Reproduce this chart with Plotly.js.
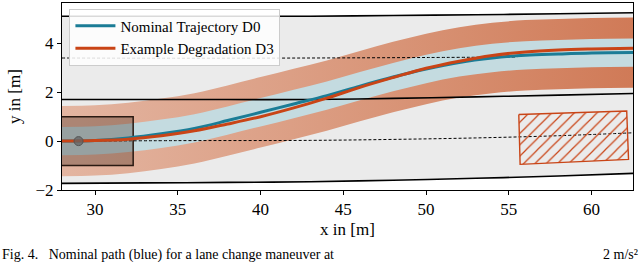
<!DOCTYPE html>
<html>
<head>
<meta charset="utf-8">
<script src="https://cdn.plot.ly/plotly-3.0.1.min.js"></script>
<style>html,body{margin:0;padding:0;background:#fff;}#chart{width:640px;height:262px;}</style>
</head>
<body>
<div id="chart"></div>
<script>
// ---- data ----
const roadX        = [28, 33, 38, 43, 48, 53, 58, 62.5];
const roadTop      = [5.11, 5.11, 5.11, 5.11, 5.14, 5.17, 5.21, 5.25];
const roadMid      = [1.70, 1.70, 1.70, 1.70, 1.75, 1.81, 1.88, 1.95];
const roadBottom   = [-1.73, -1.71, -1.69, -1.66, -1.60, -1.52, -1.43, -1.32];
const dashUpperX   = [28, 35, 43, 50, 55.5];
const dashUpperY   = [3.40, 3.39, 3.40, 3.42, 3.44];
const dashLowerX   = [29, 35, 43, 48, 53, 58, 62.5];
const dashLowerY   = [0.0, 0.02, 0.03, 0.07, 0.13, 0.22, 0.34];

const trajX        = [28, 30, 32, 34, 36, 38, 40, 42, 44, 46, 48, 50, 52, 54, 56, 58, 60, 62.5];
const nominalD0    = [0, 0.03, 0.13, 0.30, 0.52, 0.84, 1.18, 1.52, 1.86, 2.25, 2.62, 2.95, 3.22, 3.40, 3.51, 3.56, 3.60, 3.62];
const degradedD3   = [0, 0.02, 0.08, 0.22, 0.42, 0.70, 1.00, 1.36, 1.76, 2.20, 2.60, 2.98, 3.27, 3.50, 3.65, 3.73, 3.77, 3.80];
const halfWidthD0  = 0.58;
const halfWidthD3  = 1.44;

const vehicleX     = [27, 32.3];
const vehicleY     = [-1, 1];
const startX       = [29];
const startY       = [0];
const obstacleX    = [55.6, 62.12, 62.23, 55.68, 55.6];
const obstacleY    = [1.09, 1.23, -0.75, -0.95, 1.09];

const xTicks       = [30, 35, 40, 45, 50, 55, 60];
const yTicks       = [-2, 0, 2, 4];
const seriesNames  = ['Nominal Trajectory D0', 'Example Degradation D3'];

// ---- colours ----
const TEAL = '#1b7c96';
const ORANGE = '#c94416';
const FONT = 'Liberation Serif, Times New Roman, serif';

const d0Lo = nominalD0.map(v => v - halfWidthD0);
const d0Hi = nominalD0.map(v => v + halfWidthD0);
const d3Lo = nominalD0.map(v => v - halfWidthD3);
const d3Hi = nominalD0.map(v => v + halfWidthD3);

const traces = [];
const noLeg = {showlegend: false, hoverinfo: 'skip'};
// road surface
traces.push(Object.assign({x: roadX, y: roadBottom, mode: 'lines', line: {width: 0}}, noLeg));
traces.push(Object.assign({x: roadX, y: roadTop, mode: 'lines', line: {width: 0}, fill: 'tonexty', fillcolor: '#ebebeb'}, noLeg));
// D3 band
traces.push(Object.assign({x: trajX, y: d3Lo, mode: 'lines', line: {width: 0, shape: 'spline'}}, noLeg));
traces.push(Object.assign({x: trajX, y: d3Hi, mode: 'lines', line: {width: 0, shape: 'spline'}, fill: 'tonexty',
  fillgradient: {type: 'horizontal', colorscale: [[0, '#e3b5a1'], [0.4, '#dc9f85'], [0.7, '#d68d6e'], [1, '#d07a57']]}}, noLeg));
// D0 band
traces.push(Object.assign({x: trajX, y: d0Lo, mode: 'lines', line: {width: 0, shape: 'spline'}}, noLeg));
traces.push(Object.assign({x: trajX, y: d0Hi, mode: 'lines', line: {width: 0, shape: 'spline'}, fill: 'tonexty', fillcolor: '#c4dbe0'}, noLeg));
// road lines
[roadTop, roadMid, roadBottom].forEach(arr => {
  traces.push(Object.assign({x: roadX, y: arr, mode: 'lines', line: {color: '#000', width: 1.6, shape: 'spline'}}, noLeg));
});
traces.push(Object.assign({x: dashUpperX, y: dashUpperY, mode: 'lines', line: {color: '#000', width: 1, dash: '3px,2px', shape: 'spline'}}, noLeg));
traces.push(Object.assign({x: dashLowerX, y: dashLowerY, mode: 'lines', line: {color: '#000', width: 1, dash: '3px,2px', shape: 'spline'}}, noLeg));
// obstacle
traces.push(Object.assign({x: obstacleX, y: obstacleY, mode: 'lines', fill: 'toself', fillcolor: 'rgba(0,0,0,0)',
  fillpattern: {shape: '/', fgcolor: ORANGE, bgcolor: 'rgba(0,0,0,0)', size: 8, solidity: 0.15},
  line: {color: ORANGE, width: 1.4}}, noLeg));
// vehicle box
traces.push(Object.assign({x: [vehicleX[0], vehicleX[1], vehicleX[1], vehicleX[0], vehicleX[0]],
  y: [vehicleY[0], vehicleY[0], vehicleY[1], vehicleY[1], vehicleY[0]], mode: 'lines', fill: 'toself',
  fillcolor: 'rgba(45,25,15,0.3)', line: {color: '#2a1a12', width: 1.5}}, noLeg));
// trajectories
traces.push({x: trajX, y: nominalD0, mode: 'lines', name: seriesNames[0], line: {color: TEAL, width: 3, shape: 'spline'}});
traces.push({x: trajX, y: degradedD3, mode: 'lines', name: seriesNames[1], line: {color: ORANGE, width: 3, shape: 'spline'}});
// start marker
traces.push(Object.assign({x: startX, y: startY, mode: 'markers', marker: {size: 9, color: 'rgba(100,100,100,0.75)', line: {color: '#555', width: 1}}}, noLeg));

const layout = {
  width: 640, height: 262,
  margin: {l: 62, r: 7, t: 3, b: 72},
  paper_bgcolor: '#fff', plot_bgcolor: '#fff',
  font: {family: FONT, color: '#000', size: 15},
  showlegend: true,
  legend: {x: 0.013, y: 0.97, xanchor: 'left', yanchor: 'top', bgcolor: 'rgba(255,255,255,0.85)',
    bordercolor: '#cccccc', borderwidth: 1, font: {family: FONT, size: 15}, traceorder: 'normal',
    tracegroupgap: 0, itemwidth: 40},
  xaxis: {range: [28, 62.5], tickvals: xTicks, ticks: 'outside', ticklen: 4, tickcolor: '#000',
    showline: true, mirror: true, linecolor: '#000', linewidth: 1, showgrid: false, zeroline: false,
    tickfont: {family: FONT, size: 17}, title: {text: 'x in [m]', font: {family: FONT, size: 17}, standoff: 4}},
  yaxis: {range: [-2, 5.65], tickvals: yTicks, ticks: 'outside', ticklen: 4, tickcolor: '#000',
    showline: true, mirror: true, linecolor: '#000', linewidth: 1, showgrid: false, zeroline: false,
    tickfont: {family: FONT, size: 17}, title: {text: 'y in [m]', font: {family: FONT, size: 17}, standoff: 10}},
  annotations: [
    {xref: 'paper', yref: 'paper', x: -0.108, y: -0.295, xanchor: 'left', yanchor: 'top', showarrow: false,
     text: 'Fig. 4.   Nominal path (blue) for a lane change maneuver at', font: {family: FONT, size: 14}},
    {xref: 'paper', yref: 'paper', x: 1.012, y: -0.295, xanchor: 'right', yanchor: 'top', showarrow: false,
     text: '2 m/s²', font: {family: FONT, size: 14}}
  ]
};

Plotly.newPlot('chart', traces, layout, {displayModeBar: false, staticPlot: true});
</script>
</body>
</html>
